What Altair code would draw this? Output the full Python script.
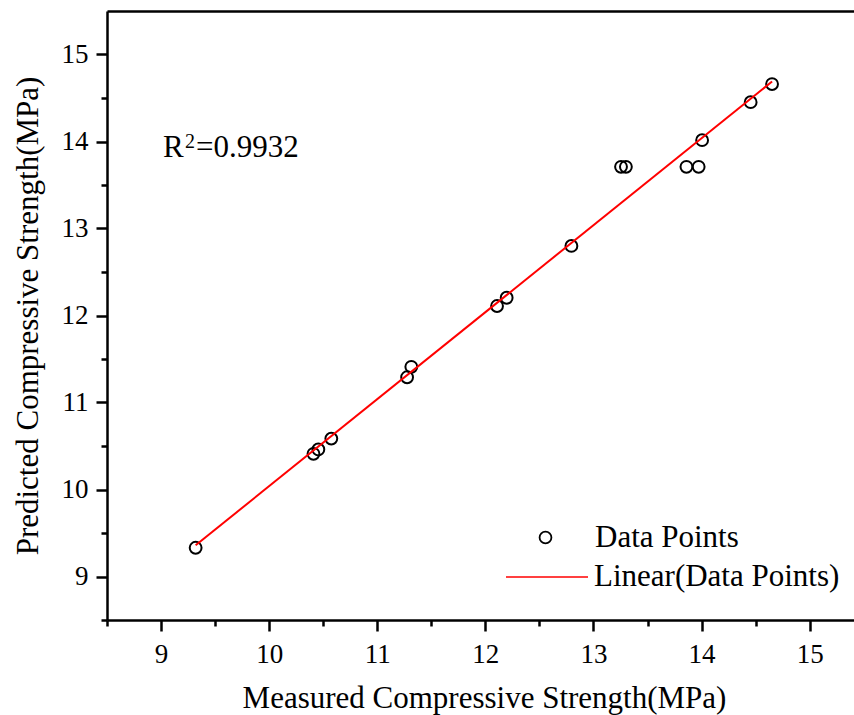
import altair as alt
import pandas as pd

# ---- data ----
measured = [9.32, 10.41, 10.455, 10.575, 11.276, 11.315, 12.108, 12.197, 12.796,
            13.255, 13.30, 13.86, 13.973, 14.005, 14.454, 14.652]
predicted = [9.33, 10.41, 10.46, 10.585, 11.29, 11.41, 12.109, 12.204, 12.80,
             13.709, 13.709, 13.709, 13.709, 14.015, 14.452, 14.66]
series_name = "Data Points"
fit_name = "Linear(Data Points)"
r2_base = "R"
r2_sup = "2"
r2_value = "=0.9932"
tick_values = [8.5, 9, 9.5, 10, 10.5, 11, 11.5, 12, 12.5, 13, 13.5, 14, 14.5, 15]

df = pd.DataFrame({"x": measured, "y": predicted, "series": [series_name] * len(measured)})

FONT = "Liberation Serif, Times New Roman, serif"
W, H = 747, 609

major = "datum.value % 1 === 0"
tick_size = {"condition": {"test": major, "value": 11}, "value": 6}
label_expr = f"{major} ? format(datum.value, 'd') : ''"

x_scale = alt.Scale(domain=[8.5, 15.41], nice=False, zero=False)
y_scale = alt.Scale(domain=[8.5, 15.5], nice=False, zero=False)

x_axis = alt.Axis(
    values=tick_values, labelExpr=label_expr, tickSize=tick_size, grid=False,
    domainColor="black", domainWidth=2.5, tickColor="black", tickWidth=2.5,
    labelFont=FONT, labelFontSize=27, labelColor="black", labelPadding=31,
    labelBaseline="alphabetic", labelFlush=False, labelOverlap=False,
    title="Measured Compressive Strength(MPa)", titleFont=FONT, titleFontSize=31,
    titleFontWeight="normal", titleColor="black", titleBaseline="alphabetic",
    titleX=377, titleY=87,
)
y_axis = alt.Axis(
    values=tick_values, labelExpr=label_expr, tickSize=tick_size, grid=False,
    domainColor="black", domainWidth=2.5, tickColor="black", tickWidth=2.5,
    labelFont=FONT, labelFontSize=27, labelColor="black", labelPadding=8,
    labelFlush=False, labelOverlap=False,
    title="Predicted Compressive Strength(MPa)", titleFont=FONT, titleFontSize=31,
    titleFontWeight="normal", titleColor="black", titleBaseline="alphabetic",
    titleAngle=270, titleX=-70, titleY=H / 2,
)
top_axis = alt.Axis(orient="top", labels=False, ticks=False, grid=False, title=None,
                    domainColor="black", domainWidth=2.5)

points = alt.Chart(df).mark_point(filled=False, size=140, strokeWidth=2, color="black", opacity=1).encode(
    x=alt.X("x:Q", scale=x_scale, axis=x_axis),
    y=alt.Y("y:Q", scale=y_scale, axis=y_axis),
    shape=alt.Shape("series:N", scale=alt.Scale(domain=[series_name], range=["circle"]),
                    legend=alt.Legend(orient="none", legendX=423, legendY=511, title=None,
                                      labelFont=FONT, labelFontSize=31, labelColor="black",
                                      labelLimit=400,
                                      symbolSize=140, symbolStrokeWidth=1.8, symbolStrokeColor="black",
                                      symbolFillColor="transparent", labelOffset=34, padding=0)),
)

line = alt.Chart(df).transform_regression("x", "y").transform_calculate(
    fit=f"'{fit_name}'"
).mark_line(strokeWidth=2).encode(
    x=alt.X("x:Q", scale=x_scale, axis=top_axis),
    y=alt.Y("y:Q", scale=y_scale, axis=y_axis),
    stroke=alt.Stroke("fit:N", scale=alt.Scale(domain=[fit_name], range=["#ff0000"]),
                      legend=alt.Legend(orient="none", legendX=398, legendY=524, title=None,
                                        labelFont=FONT, labelFontSize=31, labelColor="black",
                                        labelLimit=400,
                                        symbolType="stroke", symbolSize=6724, symbolStrokeWidth=1.5,
                                        labelOffset=5, padding=0)),
)

def label(txt, size, xpos, ypos):
    return alt.Chart(pd.DataFrame({"t": [txt]})).mark_text(
        align="left", baseline="alphabetic", font=FONT, fontSize=size, color="black"
    ).encode(text="t:N", x=alt.value(xpos), y=alt.value(ypos))

r2 = label(r2_base, 31, 56, 146) + label(r2_sup, 20, 78, 137) + label(r2_value, 31, 89, 146)

chart = alt.layer(points, line, r2).resolve_axis(x="independent").resolve_scale(
    shape="independent", stroke="independent"
).properties(
    width=W, height=H,
    autosize=alt.AutoSizeParams(type="none"),
    padding={"left": 107, "top": 11, "right": 0, "bottom": 715 - 11 - H},
).configure_view(stroke=None).configure(background="white")

chart.save("out.html", embed_options={"renderer": "svg", "actions": False})
